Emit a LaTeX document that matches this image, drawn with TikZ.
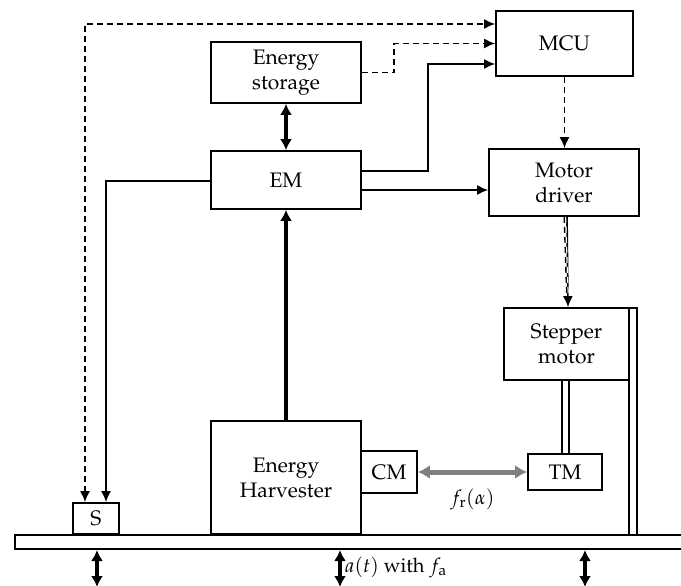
\documentclass[tikz,border=0pt]{standalone}
\usepackage[T1]{fontenc}
\usepackage{mathpazo}
\usetikzlibrary{arrows.meta}
\begin{document}
\begin{tikzpicture}[x=1pt,y=-1pt,
  line width=1.7pt,
  box/.style={draw,rectangle,align=center,inner sep=0pt,font=\fontsize{21}{25}\selectfont},
  tip/.style={Latex[length=11pt,width=10pt]},
  thin/.style={-{Latex[length=11pt,width=10pt]}},
  dsh/.style={dash pattern=on 6pt off 4pt},
  thickarr/.style={line width=3.4pt,{Latex[length=11pt,width=12pt]}-{Latex[length=11pt,width=12pt]}},
  greyarr/.style={line width=5pt,draw={rgb,255:red,128;green,128;blue,128},{Latex[length=12pt,width=14pt]}-{Latex[length=12pt,width=14pt]}},
  lbl/.style={font=\fontsize{20}{24}\selectfont,inner sep=0pt}]
\useasboundingbox (0,0) rectangle (681,586);
% boxes
\node[box,minimum width=150pt,minimum height=61pt] (es) at (286,72.5) {Energy\\storage};
\node[box,minimum width=150pt,minimum height=58pt] (em) at (286,180) {EM};
\node[box,minimum width=137pt,minimum height=65pt] (mcu) at (564.5,43.5) {MCU};
\node[box,minimum width=150pt,minimum height=67pt] (md) at (564,182.5) {Motor\\driver};
\node[box,minimum width=125pt,minimum height=72pt] (sm) at (566.5,344) {Stepper\\motor};
\node[box,minimum width=74pt,minimum height=36pt] (tm) at (565,472) {TM};
\node[box,minimum width=56pt,minimum height=42pt] (cm) at (389,472) {CM};
\node[box,minimum width=150pt,minimum height=113pt] (eh) at (286,477.5) {Energy\\Harvester};
\node[box,minimum width=46pt,minimum height=31pt] (s) at (96,518.5) {S};
% plate, rail, shaft
\draw (685,535) -| (15,549) -- (685,549);
\draw (629,308) rectangle (637,535);
\draw (562,380) rectangle (569,454);
% connectors
\draw[dsh,{Latex[length=11pt,width=10pt]}-{Latex[length=11pt,width=10pt]}] ([xshift=-11pt]s.north) |- ([yshift=19.5pt]mcu.west);
\draw[dsh,thin] (es.east) -| (394,43.5) -- (mcu.west);
\draw[thin] ([yshift=9pt]em.east) -| (428,64) -- ([yshift=-20.5pt]mcu.west);
\draw[thin] ([yshift=-10pt]em.east) -- ([yshift=-7.5pt]md.west);
\draw[dsh,thin] (mcu.south) -- (mcu.south |- md.north);
\draw[thin] ([xshift=3pt]md.south) -- ([xshift=1.5pt]sm.north);
\draw[dsh,line width=1.2pt,white] ([xshift=1.6pt]md.south) -- ([xshift=1.6pt,yshift=12pt]sm.north);
\draw[dsh,line width=1.4pt] ([xshift=0.2pt]md.south) -- ([xshift=0.2pt,yshift=12pt]sm.north);
\draw[thin] ([yshift=-1pt]em.west) -| ([xshift=10pt]s.north);
\draw[line width=3.4pt,-{Latex[length=11pt,width=12pt]}] (eh.north) -- (em.south);
\draw[thickarr] (es.south) -- (em.north);
\draw[greyarr] (cm.east) -- (tm.west) node[midway,below=14pt,lbl,text=black] {$f_{\mathrm{r}}(\alpha)$};
% base excitation arrows
\coordinate (b1t) at (97,550); \coordinate (b1b) at (97,587);
\coordinate (b2t) at (340,550); \coordinate (b2b) at (340,587);
\coordinate (b3t) at (585,550); \coordinate (b3b) at (585,587);
\draw[thickarr] (b1t) -- (b1b);
\draw[thickarr] (b2t) -- (b2b);
\draw[thickarr] (b3t) -- (b3b);
\node[lbl,anchor=west] (at) at (344,567) {$a(t)$ with $f_{\mathrm{a}}$};
\end{tikzpicture}
\end{document}
